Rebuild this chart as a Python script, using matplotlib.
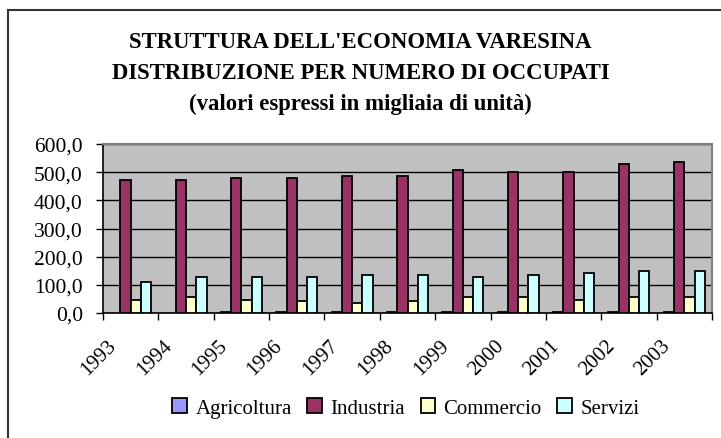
import numpy as np
import matplotlib
matplotlib.use("Agg")
import matplotlib.pyplot as plt
from matplotlib.transforms import ScaledTranslation
from matplotlib.ticker import FuncFormatter
from matplotlib.patches import Rectangle

# Dati (migliaia di unità)
anni = ["1993", "1994", "1995", "1996", "1997", "1998",
        "1999", "2000", "2001", "2002", "2003"]
agricoltura = [np.nan, np.nan, 4, 4, 4, 4, 4, 4, 4, 4, 4]
industria = [472, 472, 479, 479, 486, 486, 508, 501, 501, 530, 536]
commercio = [47, 56, 47, 41, 34, 41, 56, 56, 47, 56, 56]
servizi = [111, 127, 127, 127, 134, 134, 127, 134, 141, 148, 148]

serie = [("Agricoltura", agricoltura, "#9999FF"),
         ("Industria", industria, "#993366"),
         ("Commercio", commercio, "#FFFFCC"),
         ("Servizi", servizi, "#CCFFFF")]

plt.rcParams['font.family'] = ['Liberation Serif', 'DejaVu Serif']

fig = plt.figure(figsize=(7.21, 4.39), dpi=100)
fig.patches.append(Rectangle((8 / 721, -0.1), 1.2, 1 - 11 / 439 + 0.1,
                             transform=fig.transFigure, fill=False,
                             edgecolor="#333333", linewidth=1.5))

ax = fig.add_axes([103 / 721, 1 - 314 / 439, 609 / 721, 169 / 439])
ax.set_facecolor("#C0C0C0")

x = np.arange(len(anni))
w = 0.185
for i, (nome, vals, col) in enumerate(serie):
    ax.bar(x + (i - 1.5) * w, vals, w, color=col, edgecolor="black",
           linewidth=1.3, label=nome, zorder=3)

ax.set_xlim(-0.5, len(anni) - 0.5)
ax.set_ylim(0, 600)
ax.set_yticks(np.arange(0, 601, 100))
ax.yaxis.set_major_formatter(FuncFormatter(lambda v, p: f"{v:.1f}".replace(".", ",")))
ax.grid(axis="y", color="black", linewidth=1, zorder=1)

ax.set_xticks(x)
ax.set_xticklabels(anni, rotation=45, ha="right", va="center",
                   rotation_mode="anchor")
ax.set_xticks(np.arange(-0.5, len(anni), 1), minor=True)
ax.tick_params(axis="x", which="major", length=0, pad=21, labelsize=15)
ax.tick_params(axis="x", which="minor", length=5, width=1, direction="out")
ax.tick_params(axis="y", length=5, width=1, direction="out", pad=9.5, labelsize=15.5)
off = ScaledTranslation(-17 / 100, 0, fig.dpi_scale_trans)
for lab in ax.get_xticklabels():
    lab.set_transform(lab.get_transform() + off)

for s in ["left", "bottom"]:
    ax.spines[s].set_color("black")
    ax.spines[s].set_linewidth(1.2)
for s in ["top", "right"]:
    ax.spines[s].set_color("#808080")
    ax.spines[s].set_linewidth(1.5)

fig.text(0.5, 1 - 73.5 / 439,
         "STRUTTURA DELL'ECONOMIA VARESINA\nDISTRIBUZIONE PER NUMERO DI OCCUPATI\n(valori espressi in migliaia di unità)",
         ha="center", va="center", fontsize=16.4, fontweight="bold", linespacing=1.64)

ax.legend(loc="center", bbox_to_anchor=(0.563, 1 - 409 / 439),
          bbox_transform=fig.transFigure, ncol=4, frameon=False, fontsize=15,
          handlelength=0.7, handleheight=0.7, handletextpad=0.4, columnspacing=0.75)

fig.savefig("out.png", dpi=100)
